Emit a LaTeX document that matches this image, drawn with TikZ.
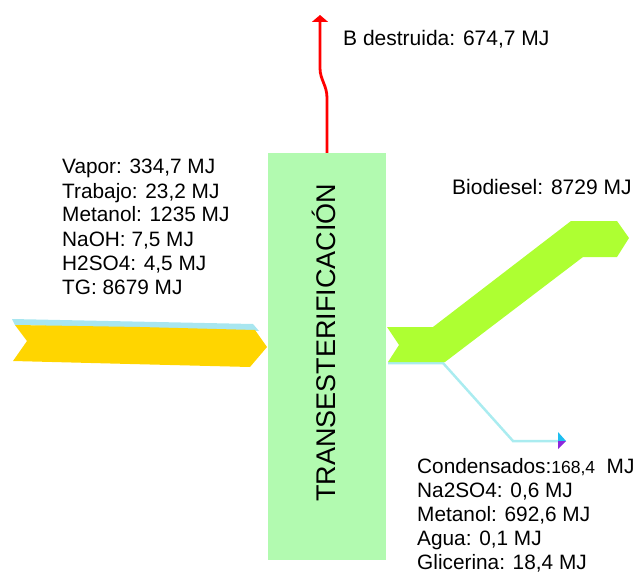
\documentclass[tikz,border=0pt]{standalone}
\usepackage{fontspec}
\setmainfont{Liberation Sans}
\usepackage{tikz}
\usetikzlibrary{arrows.meta}

\definecolor{procgreen}{RGB}{178,250,176}
\definecolor{tggold}{RGB}{255,213,0}
\definecolor{vaporblue}{RGB}{168,230,240}
\definecolor{biogreen}{RGB}{174,255,50}
\definecolor{condcyan}{RGB}{170,236,240}
\definecolor{tipcyan}{RGB}{30,190,240}
\definecolor{tippurple}{RGB}{140,40,220}

\tikzset{
    lbl/.style={anchor=base west, inner sep=0pt, font=\fontsize{20.8}{24}\selectfont},
    big/.style={anchor=base west, inner sep=0pt, font=\fontsize{21}{24}\selectfont},
    proc/.style={fill=procgreen, draw=none, minimum width=118pt, minimum height=407pt, inner sep=0pt},
}

\begin{document}
\begin{tikzpicture}[x=1pt, y=-1pt]
    \useasboundingbox (0,0) rectangle (642,572);

    % Input flows (vapor sliver + TG)
    \fill[vaporblue] (12,319) -- (253,324) -- (259,331) -- (15,325) -- cycle;
    \fill[tggold] (15,325) -- (140,327) -- (255,330) -- (267,347) -- (250,367) -- (130,364) -- (13,361) -- (27,341) -- cycle;

    % Condensados line
    \coordinate (cA) at (388,363);
    \coordinate (cB) at (443,363);
    \coordinate (cC) at (513,441);
    \coordinate (cD) at (560,441);
    \draw[condcyan, line width=2.5pt] (cA) -- (cB) -- (cC) -- (cD);
    \fill[tipcyan] (558,432) -- (566,441) -- (558,441) -- cycle;
    \fill[tippurple] (558,441) -- (566,441) -- (558,449) -- cycle;

    % Biodiesel flow
    \fill[biogreen] (387,327) -- (433,327) -- (571,221) -- (617,221) -- (629,238)
        -- (617,257) -- (583,257) -- (445,362) -- (388,362) -- (399,345) -- cycle;

    % Process block
    \node[proc] (tr) at (327,356.5) {};
    \node[rotate=90, anchor=base west, inner sep=0pt, font=\fontsize{27}{27}\selectfont]
        (ttl) at (335,502) {TRANSESTERIFICACIÓN};

    % Destroyed exergy
    \coordinate (bTop) at (320,15);
    \draw[red, line width=2.8pt, -{Triangle[width=16pt,length=7pt]}]
        (tr.north) -- (327,98) .. controls (327,85) and (320,80) .. (320,68) -- (bTop);
    \node[big] (bdes) at (343,46) {B destruida: 674,7 MJ};

    % Product
    \node[big] (bio) at (452,195) {Biodiesel: 8729 MJ};

    % Input labels
    \foreach \t [count=\i] in {{Vapor: 334,7 MJ},{Trabajo: 23,2 MJ},{Metanol: 1235 MJ},
        {NaOH: 7,5 MJ},{H2SO4: 4,5 MJ},{TG: 8679 MJ}}
        \node[lbl] (in\i) at (62,{150+24*\i}) {\t};

    % Output labels
    \foreach \t [count=\i] in {{Condensados:{\fontsize{17.5}{24}\selectfont168,4}~~MJ},
        {Na2SO4: 0,6 MJ},{Metanol: 692,6 MJ},{Agua: 0,1 MJ},{Glicerina: 18,4 MJ}}
        \node[lbl] (out\i) at (417,{449+24*\i}) {\t};
\end{tikzpicture}
\end{document}
